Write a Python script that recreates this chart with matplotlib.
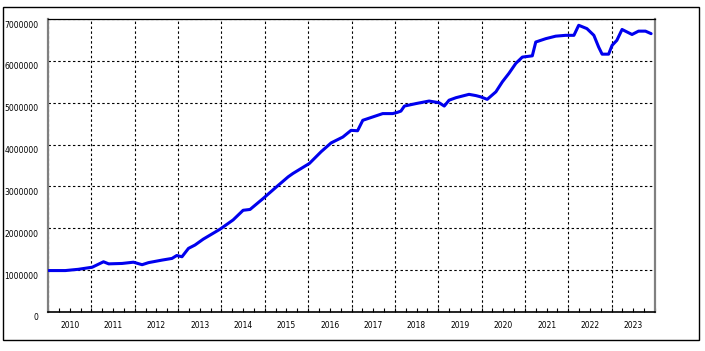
import matplotlib
matplotlib.use("Agg")
import matplotlib.pyplot as plt
import matplotlib.transforms as mtransforms
from matplotlib.patches import Rectangle

# curve: fractional year, value in millions
years = [2010.02, 2010.40, 2010.70, 2011.02, 2011.28, 2011.40, 2011.71, 2011.97,
         2012.17, 2012.32, 2012.63, 2012.86, 2012.97, 2013.09, 2013.24, 2013.39,
         2013.58, 2013.97, 2014.27, 2014.50, 2014.66, 2014.96, 2015.27, 2015.54,
         2015.65, 2016.03, 2016.30, 2016.53, 2016.80, 2016.99, 2017.14, 2017.26,
         2017.49, 2017.72, 2017.95, 2018.06, 2018.14, 2018.22, 2018.49, 2018.79,
         2019.02, 2019.14, 2019.25, 2019.41, 2019.71, 2019.87, 2019.98, 2020.13,
         2020.33, 2020.48, 2020.63, 2020.79, 2020.94, 2021.17, 2021.25, 2021.48,
         2021.71, 2021.94, 2022.13, 2022.24, 2022.43, 2022.59, 2022.70, 2022.78,
         2022.93, 2023.01, 2023.12, 2023.24, 2023.47, 2023.62, 2023.78, 2023.91]
values_m = [0.99, 0.99, 1.02, 1.07, 1.20, 1.15, 1.16, 1.19,
            1.13, 1.18, 1.24, 1.28, 1.35, 1.32, 1.52, 1.60,
            1.74, 1.98, 2.20, 2.43, 2.45, 2.71, 2.99, 3.23,
            3.31, 3.55, 3.83, 4.04, 4.18, 4.34, 4.33, 4.58,
            4.66, 4.74, 4.74, 4.77, 4.80, 4.92, 4.98, 5.04,
            5.00, 4.92, 5.06, 5.12, 5.20, 5.17, 5.14, 5.08,
            5.26, 5.50, 5.70, 5.94, 6.09, 6.12, 6.45, 6.53,
            6.59, 6.61, 6.61, 6.85, 6.77, 6.61, 6.33, 6.16,
            6.16, 6.37, 6.49, 6.75, 6.63, 6.71, 6.71, 6.65]
year_labels = list(range(2010, 2024))
y_ticks = [0, 1000000, 2000000, 3000000, 4000000, 5000000, 6000000, 7000000]

values = [v * 1e6 for v in values_m]

fig = plt.figure(figsize=(7.05, 3.51), dpi=100)
ax = fig.add_axes([48 / 705, 39 / 351, 607 / 705, 293 / 351])

ax.plot(years, values, color="#0000ee", linewidth=2.2, solid_joinstyle="round",
        solid_capstyle="round", zorder=3)

ax.set_xlim(2010, 2024)
ax.set_ylim(0, 7000000)

ax.set_yticks(y_ticks)
ax.set_yticklabels([str(v) for v in y_ticks])
ax.tick_params(axis="y", length=0, pad=7, labelsize=5.5)
shift = mtransforms.ScaledTranslation(0, -5 / 100, fig.dpi_scale_trans)
for lab in ax.get_yticklabels():
    lab.set_transform(lab.get_transform() + shift)

ax.set_xticks(range(2010, 2025))
ax.set_xticklabels([])
ax.set_xticks([y + q / 4 for y in range(2010, 2024) for q in (1, 2, 3)], minor=True)
ax.tick_params(axis="x", which="both", direction="in", length=3, width=0.8)

ax.grid(True, color="black", linestyle=(0, (2.2, 2.2)), linewidth=0.8)

# year names sit in the middle of each year
for yr in year_labels:
    ax.annotate(str(yr), xy=(yr + 0.5, 0), xycoords=ax.get_xaxis_transform(),
                xytext=(0, -10), textcoords="offset points",
                fontsize=5.5, ha="center", va="center")

for side in ("left", "right"):
    ax.spines[side].set_color("#808080")
    ax.spines[side].set_linewidth(1.6)
ax.spines["bottom"].set_linewidth(1.2)
ax.spines["top"].set_linewidth(0.9)

fig.add_artist(Rectangle((3 / 705, 11 / 351), 696 / 705, 333 / 351,
                         transform=fig.transFigure, fill=False,
                         edgecolor="black", linewidth=1))

fig.savefig("out.png", dpi=100)
